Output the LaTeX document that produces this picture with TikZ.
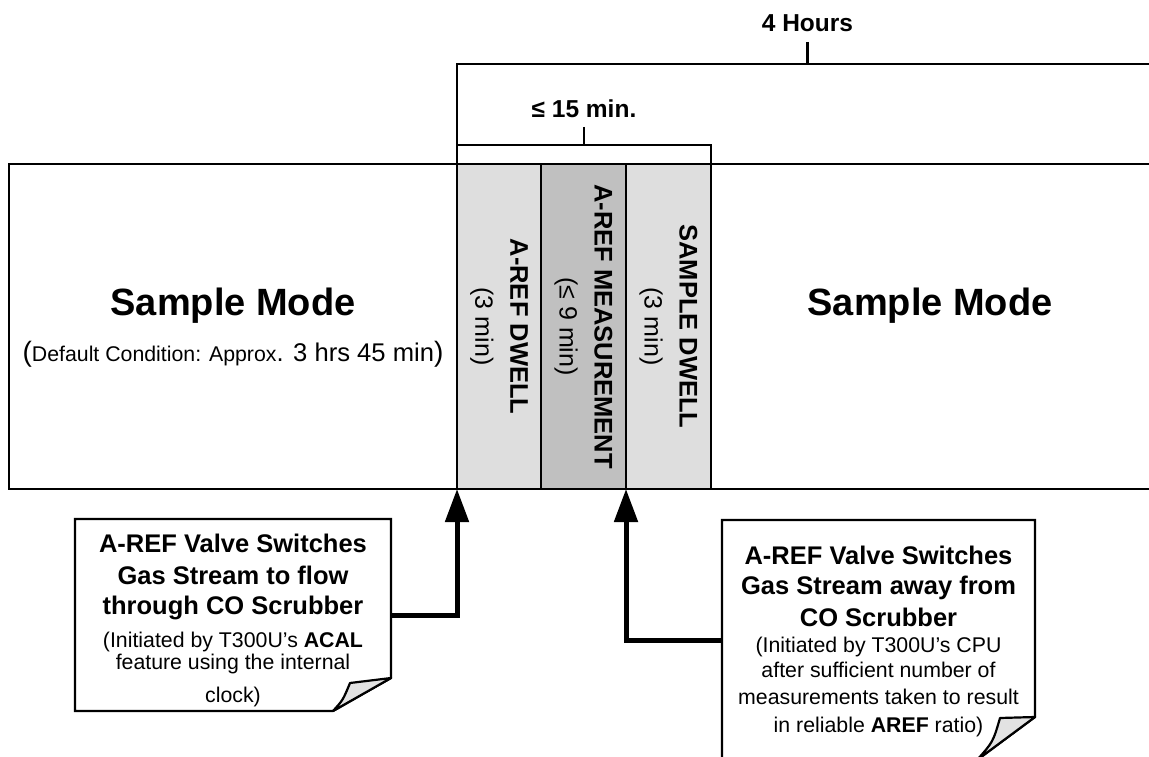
\documentclass[tikz,border=0pt]{standalone}
\usepackage{fontspec}
\setmainfont{Liberation Sans}
\usetikzlibrary{arrows.meta}
\definecolor{lightg}{HTML}{DEDEDE}
\definecolor{midg}{HTML}{C0C0C0}
\definecolor{flapg}{HTML}{E2E2E2}
\newcommand\notehead{\bfseries\fontsize{25.5}{25}\selectfont}
\begin{document}
\begin{tikzpicture}[x=1pt,y=-1pt,
  frame/.style={draw, line width=2.2pt, inner sep=0pt, outer sep=0pt},
  col/.style={frame, minimum height=325pt, anchor=north west},
  vlabel/.style={rotate=-90, align=center, inner sep=0pt, font=\fontsize{25}{35}\selectfont},
  big/.style={font=\fontsize{38}{44}\selectfont\bfseries, inner sep=0pt, anchor=base},
  sub/.style={inner sep=0pt, anchor=base},
  brk/.style={line width=2.5pt},
  brlabel/.style={font=\fontsize{24.5}{28}\selectfont\bfseries, inner sep=0pt, anchor=base},
  notebox/.style={inner sep=0pt, outer sep=0pt, anchor=north west},
  notetext/.style={align=center, inner sep=0pt, anchor=north, font=\fontsize{21.3}{25}\selectfont},
  noteline/.style={draw, line width=2.2pt, fill=white, line join=miter},
  flap/.style={draw, line width=2.2pt, fill=flapg, line join=round},
  pointer/.style={line width=5pt, -{Triangle[width=23pt,length=33pt]}},
]
\useasboundingbox (0,0) rectangle (1149,757);

% main boxes
\node[frame, minimum width=448pt, minimum height=325pt, anchor=north west] (left) at (9,164) {};
\node[inner sep=0pt, outer sep=0pt, minimum width=438pt, minimum height=325pt, anchor=north west] (right) at (711,164) {};
\draw[line width=2.2pt] (right.north west) -- (right.north east) (right.south west) -- (right.south east);

% columns
\node[col, fill=lightg, minimum width=84pt] (c1) at (457,164) {};
\node[col, fill=midg, minimum width=85pt] (c2) at (541,164) {};
\node[col, fill=lightg, minimum width=85pt] (c3) at (626,164) {};

\node[vlabel] (l1) at (c1.center) {{\bfseries\fontsize{25.5}{35}\selectfont A-REF DWELL}\\(3 min)};
\node[vlabel] (l2) at (c2.center) {{\bfseries\fontsize{25.5}{35}\selectfont A-REF MEASUREMENT}\\(≤ 9 min)};
\node[vlabel] (l3) at (c3.center) {{\bfseries\fontsize{25.5}{35}\selectfont SAMPLE DWELL}\\(3 min)};

% sample mode texts
\node[big] (sm1) at (233,315) {Sample Mode};
\node[sub] (sub1) at (233,361) {{\fontsize{28}{30}\selectfont(}{\fontsize{21.3}{25}\selectfont Default Condition: Approx}{\fontsize{25.6}{30}\selectfont. 3 hrs 45 min}{\fontsize{28}{30}\selectfont)}};
\node[big] (sm2) at (930,315) {Sample Mode};

% brackets
\node[brlabel] (hours) at (807.5,32) {4 Hours};
\node[brlabel] (mins) at (584,118) {≤ 15 min.};
\coordinate (h0) at (457,64);
\coordinate (h1) at (1149,64);
\coordinate (ht) at (807.5,42);
\coordinate (hb) at (807.5,64);
\draw[brk] (c1.north west) -- (h0) -- (h1);
\draw[brk] (ht) -- (hb);
\coordinate (m0) at (457,145);
\coordinate (m1) at (711,145);
\coordinate (mt) at (584,127);
\coordinate (mb) at (584,145);
\draw[brk] (m0) -- (m1) -- (c3.north east);
\draw[brk] (mt) -- (mb);

% note 1
\node[notebox, minimum width=316pt, minimum height=192pt] (n1) at (75,519) {};
\draw[noteline] (n1.north west) -- (n1.north east) -- ([yshift=33pt]n1.south east)
  -- ([xshift=-58pt]n1.south east) -- (n1.south west) -- cycle;
\draw[flap] ([yshift=33pt]n1.south east) -- ([xshift=-41pt,yshift=28pt]n1.south east)
  .. controls ([xshift=-48pt,yshift=11pt]n1.south east) .. ([xshift=-58pt]n1.south east) -- cycle;
\node[notetext] (t1) at (233,533.5) {{\notehead A-REF Valve Switches}\\[7pt]
  {\notehead Gas Stream to flow}\\[5pt]
  {\notehead through CO Scrubber}\\[8pt]
  (Initiated by T300U’s \textbf{ACAL}\\[-3pt]
  feature using the internal\\[8pt]
  clock)};

% note 2
\node[notebox, minimum width=313pt, minimum height=240pt] (n2) at (722,520) {};
\draw[noteline] (n2.south west) -- (n2.north west) -- (n2.north east) -- ([yshift=43pt]n2.south east)
  -- ([xshift=-58pt]n2.south east) -- cycle;
\draw[flap] ([yshift=43pt]n2.south east) -- ([xshift=-35pt,yshift=42pt]n2.south east)
  .. controls ([xshift=-42pt,yshift=18pt]n2.south east) .. ([xshift=-58pt]n2.south east) -- cycle;
\node[notetext] (t2) at (878.5,545.4) {{\notehead A-REF Valve Switches}\\[5pt]
  {\notehead Gas Stream away from}\\[7pt]
  {\notehead CO Scrubber}\\[1.5pt]
  (Initiated by T300U’s CPU\\[0pt]
  after sufficient number of\\[2pt]
  measurements taken to result\\[3pt]
  in reliable \textbf{AREF} ratio)};

% pointers
\draw[pointer] (n1.east) -| (c1.south west);
\draw[pointer] (n2.west) -| (c2.south east);
\end{tikzpicture}
\end{document}
